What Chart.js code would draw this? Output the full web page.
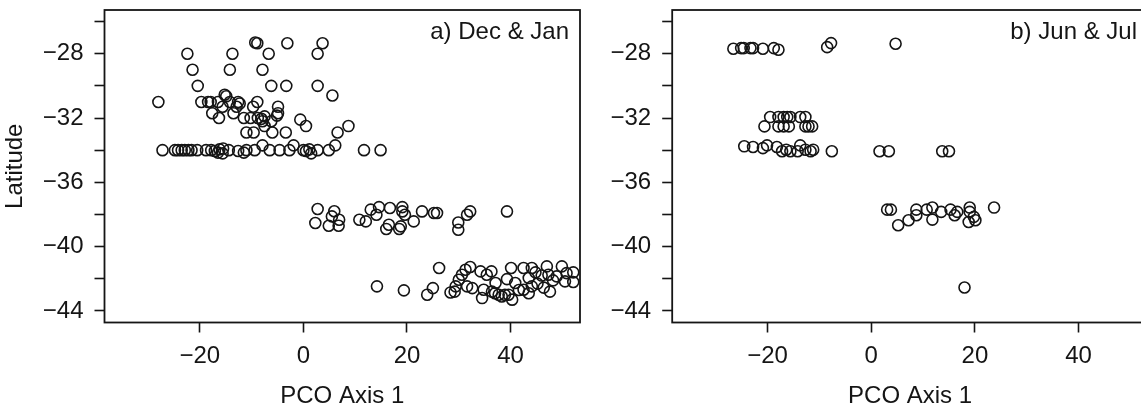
<!DOCTYPE html>
<html>
<head>
<meta charset="utf-8">
<script src="https://cdn.jsdelivr.net/npm/chart.js@4.4.0/dist/chart.umd.min.js"></script>
<style>
  html, body { margin: 0; padding: 0; background: #fff; overflow: hidden; }
  #wrap { position: relative; width: 1141px; height: 412px; overflow: hidden; }
  canvas { position: absolute; top: 0; }
  #decJan { left: 0; }
  #junJul { left: 580px; }
</style>
</head>
<body>
<div id="wrap">
  <canvas id="decJan" width="590" height="412"></canvas>
  <canvas id="junJul" width="590" height="412"></canvas>
</div>
<script>
// axis ticks (R style: ticks every 2, labels every 4 on latitude)
var xTicks = [-20, 0, 20, 40];
var yTicks = [-44, -42, -40, -38, -36, -34, -32, -30, -28, -26];
var yLabelled = [-44, -40, -36, -32, -28];
var xRange = [-38.4, 53.4];
var yRange = [-44.72, -25.28];

// a) Dec & Jan  [PCO axis 1, latitude]
var decNorth = [
  [-9.3,-27.3],[-8.9,-27.35],[-3.1,-27.35],[3.7,-27.35],[2.75,-28.0],
  [-22.4,-28.0],[-13.7,-28.0],[-6.7,-28.0],[-21.4,-29.0],[-14.2,-29.0],[-7.9,-29.0],
  [-20.4,-30.0],[-6.2,-30.0],[-3.3,-30.0],[2.75,-30.0],[5.6,-30.6],
  [-28.0,-31.0],[-19.7,-31.0],[-18.4,-31.0],[-17.9,-31.0],[-16.5,-31.0],[-14.2,-31.0],
  [-12.6,-31.0],[-12.3,-31.1],[-8.9,-31.0],[-15.2,-30.55],[-14.9,-30.65],
  [-15.6,-31.3],[-12.9,-31.3],[-9.7,-31.3],[-4.9,-31.3],[-17.6,-31.7],[-13.5,-31.7],
  [-4.9,-31.7],[-5.1,-31.85],[-16.3,-32.0],[-11.5,-32.0],[-10.2,-32.0],[-8.8,-32.0],
  [-8.1,-32.05],[-7.5,-31.9],[-7.9,-32.2],[-6.2,-32.2],[-0.6,-32.1],
  [-7.5,-32.5],[0.5,-32.5],[8.7,-32.5],[-11.0,-32.9],[-9.6,-32.9],[-6.0,-32.9],
  [-3.4,-32.9],[6.6,-32.9],[-7.9,-33.7],[-1.9,-33.7],[6.15,-33.7]
];
var decRow34 = [
  [-27.2,-34.0],[-24.8,-34.0],[-24.2,-34.0],[-23.5,-34.0],[-22.9,-34.0],[-22.2,-34.0],
  [-21.6,-34.0],[-20.5,-34.0],[-18.8,-34.0],[-17.8,-34.0],[-17.1,-34.05],[-16.5,-34.15],
  [-16.2,-33.95],[-15.6,-34.2],[-15.5,-33.9],[-14.4,-34.0],[-12.6,-34.05],[-11.5,-34.15],
  [-11.0,-34.0],[-9.4,-34.0],[-6.5,-34.0],[-4.6,-34.0],[-2.7,-34.0],[0.0,-34.0],
  [0.5,-34.05],[1.15,-33.95],[1.5,-34.2],[2.75,-34.0],[4.9,-34.0],[11.7,-34.0],[14.9,-34.0]
];
var decMid = [
  [2.75,-37.66],[2.3,-38.53],[5.96,-37.8],[5.5,-38.12],[4.9,-38.7],[6.9,-38.33],[6.8,-38.7],
  [10.8,-38.33],[12.05,-38.43],[13.0,-37.7],[14.1,-38.02],[14.6,-37.54],[16.0,-38.9],
  [16.5,-38.64],[16.7,-37.6],[18.5,-38.9],[18.8,-38.74],[19.1,-37.54],[19.1,-37.81],
  [19.6,-38.02],[21.3,-38.43],[22.9,-37.81],[25.2,-37.91],[25.8,-37.91],[29.9,-38.5],
  [29.9,-38.95],[31.6,-38.02],[32.2,-37.81],[39.3,-37.81]
];
var decSouth = [
  [14.2,-42.47],[19.4,-42.72],[26.2,-41.33],[23.9,-42.99],[25.0,-42.58],[28.4,-42.85],
  [29.2,-42.8],[29.4,-42.47],[30.0,-42.06],[30.6,-41.75],[31.3,-41.44],[32.2,-41.27],
  [31.6,-42.47],[32.6,-42.58],[34.2,-41.54],[34.5,-43.2],[34.8,-42.68],[35.4,-41.75],
  [36.3,-41.54],[36.4,-42.8],[37.1,-42.26],[37.7,-42.99],[38.3,-43.1],[39.3,-42.02],
  [39.6,-42.99],[40.1,-41.33],[40.3,-43.3],[40.9,-42.26],[42.5,-41.33],[42.5,-42.68],
  [43.5,-41.95],[43.5,-42.9],[44.1,-41.33],[44.1,-42.47],[46.0,-41.8],[47.0,-41.23],
  [47.3,-41.75],[47.6,-42.8],[48.9,-41.85],[49.9,-41.23],[50.5,-42.16],[50.8,-41.65],
  [52.1,-41.6],[52.1,-42.2],[37.0,-42.9],[38.9,-43.0],[45.2,-42.3],[46.4,-42.55],
  [48.2,-42.1],[44.8,-41.6],[41.6,-42.7]
];

// b) Jun & Jul
var junNorth = [
  [-26.6,-27.69],[-25.1,-27.65],[-24.6,-27.65],[-23.3,-27.65],[-22.8,-27.65],[-20.9,-27.69],
  [-18.8,-27.65],[-17.9,-27.75],[-8.5,-27.59],[-7.75,-27.34],[4.7,-27.38]
];
var junRow32 = [
  [-19.5,-31.94],[-17.9,-31.94],[-16.9,-31.94],[-16.2,-31.94],[-15.6,-31.94],[-13.7,-31.94],
  [-12.7,-31.94],[-20.6,-32.52],[-17.9,-32.52],[-16.9,-32.52],[-15.9,-32.52],[-12.7,-32.52],
  [-12.1,-32.52],[-11.4,-32.52]
];
var junRow34 = [
  [-24.5,-33.76],[-22.8,-33.8],[-20.9,-33.87],[-20.1,-33.7],[-18.2,-33.8],[-17.2,-34.07],
  [-16.4,-33.97],[-15.6,-34.07],[-14.2,-34.07],[-13.7,-33.7],[-12.7,-33.97],[-11.7,-34.07],
  [-11.2,-33.97],[-7.6,-34.07],[1.6,-34.07],[3.4,-34.07],[13.7,-34.07],[15.0,-34.07]
];
var junSouth = [
  [3.07,-37.7],[3.8,-37.7],[5.2,-38.67],[7.2,-38.36],[8.7,-38.05],[8.7,-37.7],[10.7,-37.7],
  [11.8,-37.57],[11.8,-38.32],[13.5,-37.84],[15.3,-37.7],[16.1,-38.05],[16.6,-37.84],
  [19.0,-37.57],[19.0,-37.84],[18.8,-38.47],[20.1,-38.36],[19.8,-38.15],[23.7,-37.57],
  [18.0,-42.54]
];

var FONT = '"Liberation Sans", Arial, Helvetica, sans-serif';
var FS = 24;
var INK = '#151515';

function minus(v) {
  return v < 0 ? '\u2212' + Math.abs(v) : String(v);
}

// box round the plot region + panel tag in the top right corner
var boxPlugin = {
  id: 'rbox',
  afterDraw: function(chart) {
    var a = chart.chartArea, ctx = chart.ctx;
    ctx.save();
    ctx.strokeStyle = INK;
    ctx.lineWidth = 1.8;
    ctx.strokeRect(a.left, a.top, a.right - a.left, a.bottom - a.top);
    var tag = chart.options.plugins.rbox.tag;
    ctx.fillStyle = INK;
    ctx.font = FS + 'px ' + FONT;
    ctx.textAlign = 'right';
    ctx.textBaseline = 'alphabetic';
    ctx.fillText(tag, a.right - 11, a.top + 29);
    ctx.restore();
  }
};

function panel(id, pts, tag, yAxisWidth, padRight, showYTitle) {
  var ctx = document.getElementById(id).getContext('2d');
  return new Chart(ctx, {
    type: 'scatter',
    data: {
      datasets: [{
        data: pts.map(function(p) { return { x: p[0], y: p[1] }; }),
        pointStyle: 'circle',
        pointRadius: 5.5,
        pointHoverRadius: 5.5,
        borderWidth: 1.6,
        borderColor: INK,
        backgroundColor: 'rgba(0,0,0,0)',
        showLine: false
      }]
    },
    options: {
      responsive: false,
      animation: false,
      layout: { padding: { top: 10, right: padRight, left: 0, bottom: 0 } },
      plugins: {
        legend: { display: false },
        tooltip: { enabled: false },
        rbox: { tag: tag }
      },
      scales: {
        x: {
          type: 'linear',
          min: xRange[0], max: xRange[1],
          afterBuildTicks: function(s) { s.ticks = xTicks.map(function(v) { return { value: v }; }); },
          afterFit: function(s) { s.height = 89.5; s.paddingLeft = 0; s.paddingRight = 0; },
          border: { display: false },
          grid: { drawOnChartArea: false, drawTicks: true, tickLength: 10, tickWidth: 1.6, tickColor: INK },
          ticks: {
            autoSkip: false, maxRotation: 0, padding: 9, color: INK,
            font: { family: FONT, size: FS },
            callback: function(v) { return minus(v); }
          },
          title: {
            display: true, text: 'PCO Axis 1', color: INK,
            font: { family: FONT, size: FS },
            padding: { top: 0, bottom: 1 }
          }
        },
        y: {
          type: 'linear',
          min: yRange[0], max: yRange[1],
          afterBuildTicks: function(s) { s.ticks = yTicks.map(function(v) { return { value: v }; }); },
          afterFit: function(s) { s.width = yAxisWidth; s.paddingTop = 0; s.paddingBottom = 0; },
          border: { display: false },
          grid: { drawOnChartArea: false, drawTicks: true, tickLength: 10, tickWidth: 1.6, tickColor: INK },
          ticks: {
            autoSkip: false, padding: 11, color: INK,
            font: { family: FONT, size: FS },
            callback: function(v) { return yLabelled.indexOf(v) >= 0 ? minus(v) : ''; }
          },
          title: {
            display: showYTitle, text: 'Latitude', color: INK,
            font: { family: FONT, size: FS, lineHeight: 1.25 },
            padding: 0
          }
        }
      }
    },
    plugins: [boxPlugin]
  });
}

panel('decJan', decNorth.concat(decRow34, decMid, decSouth), 'a) Dec & Jan', 104.5, 10, true);
panel('junJul', junNorth.concat(junRow32, junRow34, junSouth), 'b) Jun & Jul', 92.2, 22, false);
</script>
</body>
</html>
